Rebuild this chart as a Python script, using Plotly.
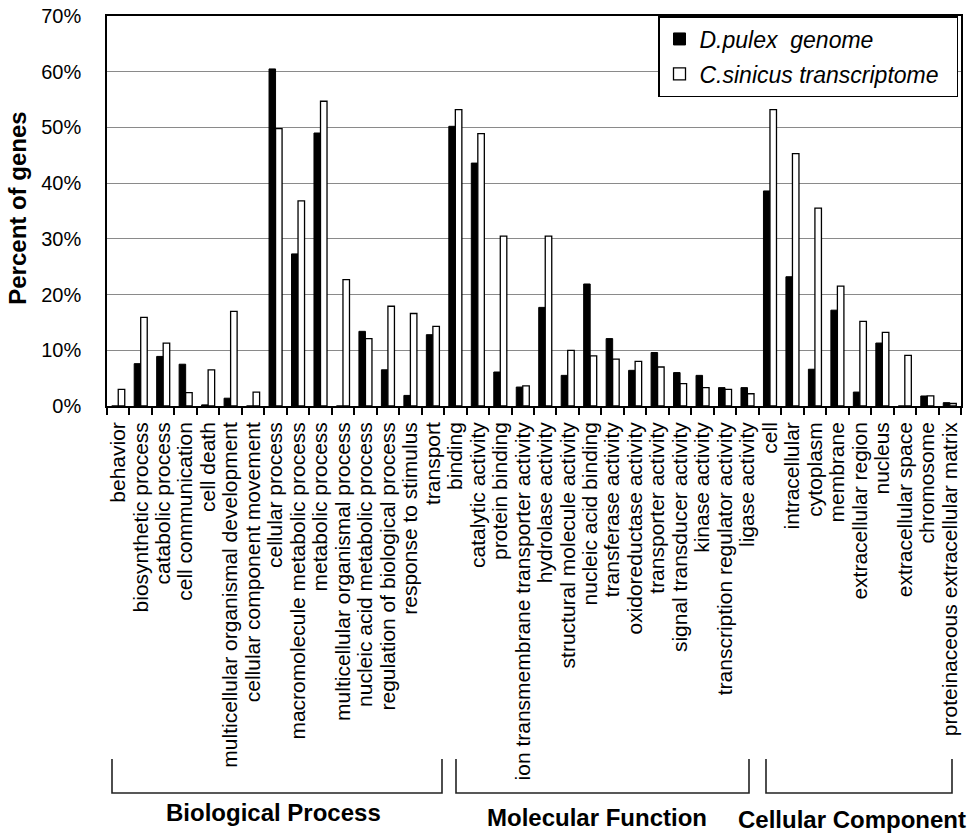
import plotly.graph_objects as go

# GO term categories, in plotting order
bio_process = [
    "behavior", "biosynthetic process", "catabolic process", "cell communication",
    "cell death", "multicellular organismal development", "cellular component movement",
    "cellular process", "macromolecule metabolic process", "metabolic process",
    "multicellular organismal process", "nucleic acid metabolic process",
    "regulation of biological process", "response to stimulus", "transport",
]
mol_function = [
    "binding", "catalytic activity", "protein binding",
    "ion transmembrane transporter activity", "hydrolase activity",
    "structural molecule activity", "nucleic acid binding", "transferase activity",
    "oxidoreductase activity", "transporter activity", "signal transducer activity",
    "kinase activity", "transcription regulator activity", "ligase activity",
]
cell_component = [
    "cell", "intracellular", "cytoplasm", "membrane", "extracellular region",
    "nucleus", "extracellular space", "chromosome", "proteinaceous extracellular matrix",
]
categories = bio_process + mol_function + cell_component

# Percent of genes per category
dpulex_genome = [
    0.0, 7.6, 8.9, 7.5, 0.2, 1.4, 0.0, 60.5, 27.3, 49.0, 0.0, 13.4, 6.5, 1.9, 12.8,
    50.2, 43.6, 6.1, 3.4, 17.7, 5.5, 21.9, 12.1, 6.4, 9.6, 6.0, 5.5, 3.3, 3.3,
    38.6, 23.2, 6.6, 17.2, 2.5, 11.3, 0.0, 1.8, 0.6,
]
csinicus_transcriptome = [
    3.0, 15.9, 11.3, 2.4, 6.5, 17.0, 2.5, 49.8, 36.8, 54.7, 22.7, 12.1, 17.9, 16.6, 14.3,
    53.2, 48.9, 30.5, 3.6, 30.5, 10.0, 9.0, 8.4, 8.0, 7.0, 4.0, 3.3, 3.0, 2.2,
    53.2, 45.3, 35.5, 21.5, 15.2, 13.2, 9.1, 1.8, 0.45,
]

group_names = ["Biological Process", "Molecular Function", "Cellular Component"]
y_ticks = [0, 10, 20, 30, 40, 50, 60, 70]

FONT = "Liberation Sans, Arial, sans-serif"
W, H = 973, 835
ML, MR, MT, MB = 107, 12, 16, 428.5
PW, PH = W - ML - MR, H - MT - MB


def px_x(x):
    return (x - ML) / PW


def px_y(y):
    return (H - MB - y) / PH


fig = go.Figure()
fig.add_trace(go.Bar(
    x=categories, y=dpulex_genome, name="D.pulex\u00a0 genome",
    marker=dict(color="black", line=dict(color="black", width=1)),
    legendgroup="a",
))
fig.add_trace(go.Bar(
    x=categories, y=csinicus_transcriptome, name="C.sinicus transcriptome\u00a0\u00a0",
    marker=dict(color="white", line=dict(color="black", width=1.3)),
    legendgroup="b",
))

# brackets beneath the category labels: (left px, right px, label centre px, label y px)
brackets = [
    (112, 442, 273, 814),
    (456, 749, 597, 819),
    (766, 952, 852, 821),
]
top_y, bot_y = 760, 794
for (x0, x1, xc, yc), name in zip(brackets, group_names):
    path = (f"M {px_x(x0)},{px_y(top_y)} L {px_x(x0)},{px_y(bot_y)} "
            f"L {px_x(x1)},{px_y(bot_y)} L {px_x(x1)},{px_y(top_y)}")
    fig.add_shape(type="path", path=path, xref="paper", yref="paper",
                  line=dict(color="#222", width=1.6))
    fig.add_annotation(text=f"<b>{name}</b>", x=px_x(xc), y=px_y(yc),
                       xref="paper", yref="paper", showarrow=False,
                       xanchor="center", yanchor="middle",
                       font=dict(family=FONT, size=24, color="black"))

fig.add_annotation(text="<b>Percent of genes</b>", x=px_x(18), y=px_y(209),
                   xref="paper", yref="paper", showarrow=False, textangle=-90,
                   xanchor="center", yanchor="middle",
                   font=dict(family=FONT, size=24, color="black"))

fig.update_layout(
    width=W, height=H,
    margin=dict(l=ML, r=MR, t=MT, b=MB, pad=0, autoexpand=False),
    paper_bgcolor="white", plot_bgcolor="white",
    barmode="group", bargap=0.42, bargroupgap=0,
    font=dict(family=FONT, color="black"),
    legend=dict(
        x=px_x(958), xanchor="right", y=1, yanchor="top",
        bgcolor="white", bordercolor="black", borderwidth=1.5,
        font=dict(family=FONT, size=23, color="black", style="italic"),
        tracegroupgap=2,
    ),
    showlegend=True,
)
fig.update_xaxes(
    type="category", tickmode="array", tickvals=categories, ticktext=categories,
    tickangle=-90, tickson="boundaries",
    ticks="outside", ticklen=7, tickwidth=1.5, tickcolor="black",
    showline=True, linecolor="black", linewidth=1.5, mirror=True,
    showgrid=False, ticklabelstandoff=6, automargin=False,
    tickfont=dict(family=FONT, size=21, color="black"),
)
fig.update_yaxes(
    range=[0, 70], tickvals=y_ticks, ticktext=[f"{v}%" for v in y_ticks],
    showgrid=True, gridcolor="#8a8a8a", gridwidth=1.3,
    showline=True, linecolor="black", linewidth=1.5, mirror=True,
    ticks="", zeroline=False, ticklabelstandoff=20, automargin=False,
    tickfont=dict(family=FONT, size=20, color="black"),
)

fig.write_html("out.html")
